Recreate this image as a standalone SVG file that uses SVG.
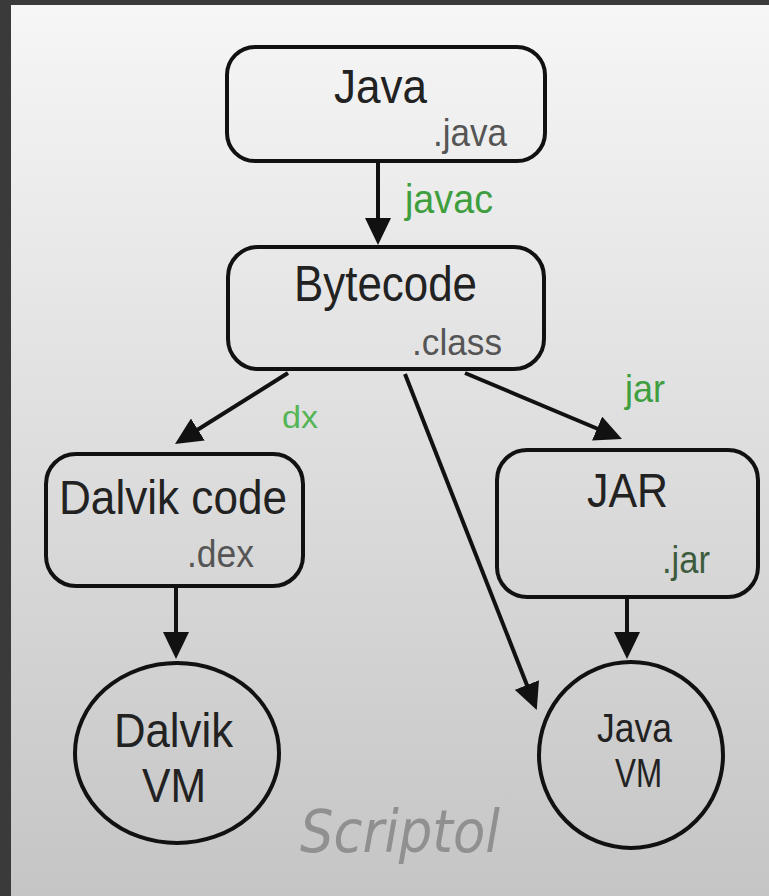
<svg xmlns="http://www.w3.org/2000/svg" width="769" height="896" viewBox="0 0 769 896">
  <defs>
    <linearGradient id="bg" x1="0" y1="0" x2="0" y2="1">
      <stop offset="0" stop-color="#f6f6f6"/>
      <stop offset="1" stop-color="#c5c5c5"/>
    </linearGradient>
    <marker id="arr" markerUnits="userSpaceOnUse" markerWidth="28" markerHeight="26" viewBox="0 0 28 26" refX="14" refY="13" orient="auto">
      <path d="M0,0 L27,13 L0,26 z" fill="#111"/>
    </marker>
    <style>
      .box { fill: none; stroke: #111; stroke-width: 4; }
      .edge { fill: none; stroke: #111; stroke-width: 4; marker-end: url(#arr); }
      .t { font-family: "Liberation Sans", Arial, sans-serif; fill: #222; }
      .ext { font-family: "Liberation Sans", Arial, sans-serif; fill: #555; }
      .lbl { font-family: "Liberation Sans", Arial, sans-serif; fill: #3f9f3f; }
    </style>
  </defs>

  <rect x="0" y="0" width="769" height="896" fill="#3a3a3a"/>
  <rect x="11" y="5" width="758" height="891" fill="url(#bg)"/>

  <g id="connectors">
    <line class="edge" x1="378" y1="163" x2="378" y2="232"/>
    <line class="edge" x1="288" y1="373" x2="186" y2="437"/>
    <line class="edge" x1="465" y1="373" x2="610" y2="434"/>
    <line class="edge" x1="405" y1="374" x2="532" y2="698"/>
    <line class="edge" x1="176" y1="588" x2="176" y2="646"/>
    <line class="edge" x1="627" y1="599" x2="627" y2="646"/>
    <text class="lbl" x="405" y="213" font-size="40" textLength="88" lengthAdjust="spacingAndGlyphs">javac</text>
    <text class="lbl" x="282" y="428" font-size="31" textLength="36" lengthAdjust="spacingAndGlyphs" style="fill:#55b555">dx</text>
    <text class="lbl" x="625" y="402" font-size="39" textLength="40" lengthAdjust="spacingAndGlyphs">jar</text>
  </g>

  <g id="java">
    <rect class="box" x="227" y="47" width="318" height="114" rx="28"/>
    <text class="t" x="334" y="103" font-size="48" textLength="93" lengthAdjust="spacingAndGlyphs">Java</text>
    <text class="ext" x="433" y="146" font-size="39" textLength="74" lengthAdjust="spacingAndGlyphs">.java</text>
  </g>

  <g id="bytecode">
    <rect class="box" x="228" y="247" width="316" height="122" rx="30"/>
    <text class="t" x="294" y="301" font-size="50" textLength="183" lengthAdjust="spacingAndGlyphs">Bytecode</text>
    <text class="ext" x="412" y="355" font-size="37" textLength="90" lengthAdjust="spacingAndGlyphs">.class</text>
  </g>

  <g id="dalvik-code">
    <rect class="box" x="46" y="454" width="257" height="132" rx="30"/>
    <text class="t" x="59" y="514" font-size="49" textLength="228" lengthAdjust="spacingAndGlyphs">Dalvik code</text>
    <text class="ext" x="187" y="567" font-size="38" textLength="67" lengthAdjust="spacingAndGlyphs">.dex</text>
  </g>

  <g id="jar-box">
    <rect class="box" x="497" y="450" width="261" height="147" rx="30"/>
    <text class="t" x="587" y="507" font-size="48" textLength="81" lengthAdjust="spacingAndGlyphs">JAR</text>
    <text class="ext" x="662" y="573" font-size="38" textLength="48" lengthAdjust="spacingAndGlyphs" style="fill:#3d5c3d">.jar</text>
  </g>

  <g id="dalvik-vm">
    <ellipse class="box" cx="177" cy="753" rx="102" ry="90"/>
    <text class="t" x="114" y="747" font-size="48" textLength="119" lengthAdjust="spacingAndGlyphs">Dalvik</text>
    <text class="t" x="142" y="802" font-size="48" textLength="64" lengthAdjust="spacingAndGlyphs">VM</text>
  </g>

  <g id="java-vm">
    <ellipse class="box" cx="631" cy="755" rx="92" ry="93"/>
    <text class="t" x="597" y="742" font-size="41" textLength="75" lengthAdjust="spacingAndGlyphs">Java</text>
    <text class="t" x="615" y="787" font-size="41" textLength="47" lengthAdjust="spacingAndGlyphs">VM</text>
  </g>

  <text x="300" y="852" font-family="'DejaVu Sans', sans-serif" font-style="italic" font-weight="200" font-size="58" fill="#909090" textLength="200" lengthAdjust="spacingAndGlyphs">Scriptol</text>
</svg>
